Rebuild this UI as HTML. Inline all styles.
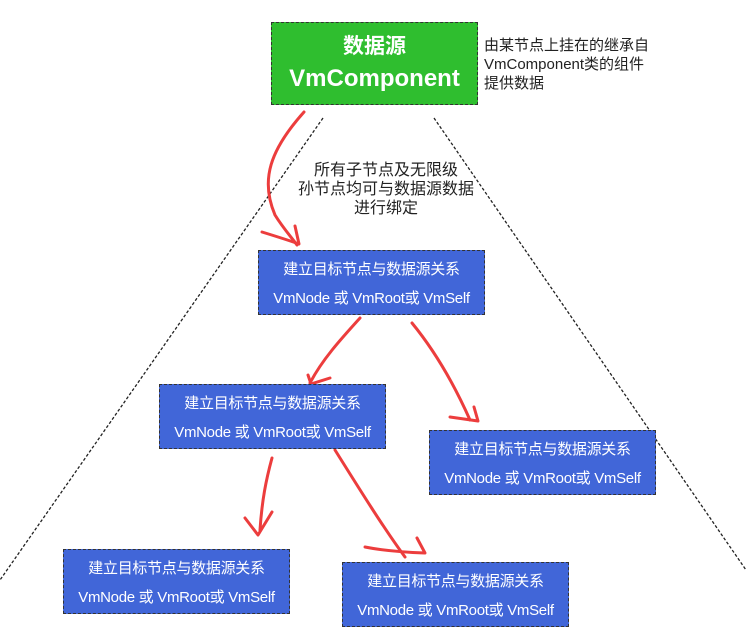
<!DOCTYPE html>
<html><head><meta charset="utf-8"><style>
body{margin:0;width:746px;height:643px;background:#fff;position:relative;overflow:hidden;font-family:"Liberation Sans","Noto Sans CJK SC",sans-serif}
.b{position:absolute;box-sizing:border-box;border:1px dashed #333;background:#4166d8;color:#fff;text-align:center;width:227px;height:65px;font-size:15px;line-height:29px;padding-top:4px;letter-spacing:-0.3px}
.g{position:absolute;left:271px;top:22px;width:207px;height:83px;box-sizing:border-box;border:1px dashed #333;background:#2fbe2f;color:#fff;text-align:center;font-weight:bold;font-size:21px;line-height:32px;padding-top:8px}
.t{position:absolute;font-size:15px;color:#222;line-height:19px}
svg{position:absolute;left:0;top:0}
</style></head><body>
<svg width="746" height="643">
<g stroke="#222" stroke-width="1.3" stroke-dasharray="3,2" fill="none">
<line x1="323" y1="118" x2="0" y2="580"/>
<line x1="434" y1="118" x2="746" y2="570"/>
</g>
<g stroke="#ec3d3d" stroke-width="3" fill="none" stroke-linecap="round" stroke-linejoin="round">
<path d="M304 112 C270 150 260 180 275 215 C283 228 292 238 297 245"/>
<path d="M262 232 C275 236 288 240 299 244 L295 226"/>
<path d="M360 318 C340 340 322 360 310 383"/>
<path d="M308 375 L311 384 L330 378"/>
<path d="M412 323 C430 345 450 375 470 420"/>
<path d="M450 417 L478 421 L474 407"/>
<path d="M272 458 C266 480 262 500 260 530"/>
<path d="M245 518 L258 535 L272 512"/>
<path d="M335 450 C360 490 385 530 405 557"/>
<path d="M365 547 C380 550 400 552 425 553 L417 538"/>
</g>
</svg>
<div class="g">数据源<br><span style="font-size:24px">VmComponent</span></div>
<div class="t" style="left:484px;top:36px">由某节点上挂在的继承自<br>VmComponent类的组件<br>提供数据</div>
<div class="t" style="left:276px;top:161px;text-align:center;width:220px;font-size:16px">所有子节点及无限级<br>孙节点均可与数据源数据<br>进行绑定</div>
<div class="b" style="left:258px;top:250px">建立目标节点与数据源关系<br>VmNode 或 VmRoot或 VmSelf</div>
<div class="b" style="left:159px;top:384px">建立目标节点与数据源关系<br>VmNode 或 VmRoot或 VmSelf</div>
<div class="b" style="left:429px;top:430px">建立目标节点与数据源关系<br>VmNode 或 VmRoot或 VmSelf</div>
<div class="b" style="left:63px;top:549px">建立目标节点与数据源关系<br>VmNode 或 VmRoot或 VmSelf</div>
<div class="b" style="left:342px;top:562px">建立目标节点与数据源关系<br>VmNode 或 VmRoot或 VmSelf</div>
</body></html>
